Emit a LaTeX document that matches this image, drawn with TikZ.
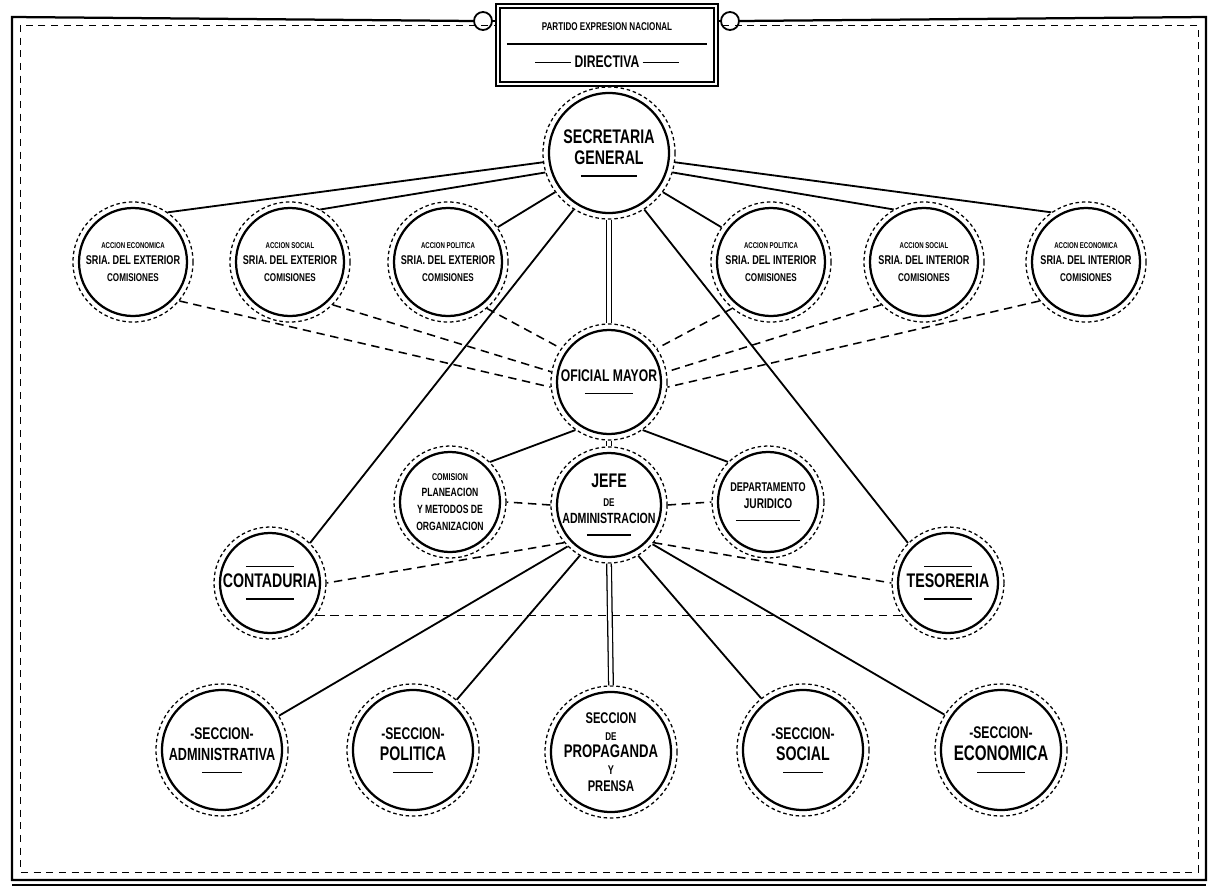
\documentclass[tikz,border=0pt]{standalone}
\usepackage{fontspec}
\setmainfont{Liberation Sans}
\newfontfamily\cond[FakeStretch=0.72]{Liberation Sans}
\newcommand\fs[2]{\fontsize{#1}{#2}\selectfont}
\tikzset{
  orgn/.style={circle, draw, line width=0.9pt, dash pattern=on 2.5pt off 2pt, inner sep=0pt, align=center, font=\cond\bfseries},
  orgin/.style={line width=1.6pt},
  conn/.style={line width=1.3pt},
  dconn/.style={line width=1.1pt, dash pattern=on 6pt off 4pt},
  stem/.style={double, double distance=2.4pt, line width=0.9pt},
  frame/.style={line width=1.6pt},
  framein/.style={line width=0.7pt, dash pattern=on 5pt off 4pt},
  knob/.style={circle, draw, line width=1.3pt, minimum size=0.45cm, inner sep=0pt, fill=white},
  titlebox/.style={draw, double, double distance=2pt, line width=0.9pt, fill=white, align=center, font=\cond\bfseries, inner sep=0pt}
}
\newcommand\orgnode[5]{%
  \node[orgn, minimum size=#3cm] (#1) at (#2) {#5};
  \draw[orgin] (#1.center) circle[radius=#4];}
\newcommand\ul[1]{\\[-3pt]\rule{#1}{0.9pt}}
\begin{document}
\begin{tikzpicture}[x=0.025cm,y=-0.025cm]
\useasboundingbox (0,0) rectangle (1218,894);
% frame
\node[knob] (kl) at (483,21) {};
\node[knob] (kr) at (730,21) {};
\draw[frame] (kl.west) -- (12,17) -- (12,880) -- (1206,880) -- (1206,17) -- (kr.east);
\draw[framein] (20,25) rectangle (1198,872);
\draw[line width=0.8pt] (12,885) -- (1206,885);
\node[titlebox, minimum width=5.45cm, minimum height=1.95cm] (title) at (607,45)
  {\fs{8}{9}PARTIDO EXPRESION NACIONAL\\[-2pt]\rule{5cm}{1.2pt}\\[4pt]
   \fs{12}{13}\rule[3pt]{0.9cm}{1pt}\ DIRECTIVA\ \rule[3pt]{0.9cm}{1pt}};
\draw[frame] (kl.east) -- (title.west |- kl.east);
\draw[frame] (kr.west) -- (title.east |- kr.west);
% nodes
\orgnode{sg}{609,153}{3.3}{60}{\fs{14}{15}SECRETARIA\\[3pt]\fs{14}{15}GENERAL\ul{1.4cm}}
\orgnode{c1}{133,262}{3.0}{54}{\fs{6}{7}ACCION ECONOMICA\\\fs{9}{10}SRIA. DEL EXTERIOR\\\fs{8}{10}COMISIONES}
\orgnode{c2}{290,262}{3.0}{54}{\fs{6}{7}ACCION SOCIAL\\\fs{9}{10}SRIA. DEL EXTERIOR\\\fs{8}{10}COMISIONES}
\orgnode{c3}{448,262}{3.0}{54}{\fs{6}{7}ACCION POLITICA\\\fs{9}{10}SRIA. DEL EXTERIOR\\\fs{8}{10}COMISIONES}
\orgnode{c4}{771,262}{3.0}{54}{\fs{6}{7}ACCION POLITICA\\\fs{9}{10}SRIA. DEL INTERIOR\\\fs{8}{10}COMISIONES}
\orgnode{c5}{924,262}{3.0}{54}{\fs{6}{7}ACCION SOCIAL\\\fs{9}{10}SRIA. DEL INTERIOR\\\fs{8}{10}COMISIONES}
\orgnode{c6}{1086,262}{3.0}{54}{\fs{6}{7}ACCION ECONOMICA\\\fs{9}{10}SRIA. DEL INTERIOR\\\fs{8}{10}COMISIONES}
\orgnode{om}{609,382}{2.9}{52}{\fs{12}{13}OFICIAL MAYOR\ul{1.2cm}}
\orgnode{jefe}{609,505}{2.9}{52}{\fs{14}{14}JEFE\\[1pt]\fs{8}{8}DE\\\fs{10.5}{11}ADMINISTRACION\ul{1.1cm}}
\orgnode{com}{450,502}{2.8}{50}{\fs{7}{8}COMISION\\\fs{8.5}{9}PLANEACION\\\fs{8.5}{9}Y METODOS DE\\\fs{8.5}{9}ORGANIZACION}
\orgnode{jur}{768,502}{2.8}{50}{\fs{9}{10}DEPARTAMENTO\\\fs{10}{11}JURIDICO\ul{1.6cm}}
\orgnode{cont}{270,583}{2.8}{50}{\rule{1.2cm}{0.8pt}\\[2pt]\fs{14}{15}CONTADURIA\ul{1.2cm}}
\orgnode{tes}{948,583}{2.8}{50}{\rule{1.2cm}{0.8pt}\\[2pt]\fs{14}{15}TESORERIA\ul{1.2cm}}
\orgnode{sa}{222,750}{3.3}{60}{\fs{12}{13}-SECCION-\\[3pt]\fs{12.5}{13}ADMINISTRATIVA\ul{1cm}}
\orgnode{sp}{413,750}{3.3}{60}{\fs{12}{13}-SECCION-\\[3pt]\fs{14}{15}POLITICA\ul{1cm}}
\orgnode{prop}{611,752}{3.3}{60}{\fs{11}{11}SECCION\\\fs{8}{8}DE\\\fs{13}{13}PROPAGANDA\\\fs{9}{9}Y\\\fs{11}{12}PRENSA}
\orgnode{ss}{803,750}{3.3}{60}{\fs{12}{13}-SECCION-\\[3pt]\fs{14}{15}SOCIAL\ul{1cm}}
\orgnode{se}{1001,750}{3.3}{60}{\fs{12}{13}-SECCION-\\[4pt]\fs{15}{16}ECONOMICA\ul{1.2cm}}
% connectors from secretaria general
\draw[conn] (c1.55) -- (sg.188);
\draw[conn] (c2.60) -- (sg.197);
\draw[conn] (c3.35) -- (sg.216);
\draw[conn] (c4.145) -- (sg.324);
\draw[conn] (c5.120) -- (sg.343);
\draw[conn] (c6.125) -- (sg.352);
\draw[conn] (sg.238) -- (cont.45);
\draw[conn] (sg.302) -- (tes.135);
\draw[stem] (sg.south) -- (om.north);
% dashed to oficial mayor
\draw[dconn] (c1.-40) -- (om.185);
\draw[dconn] (c2.-45) -- (om.170);
\draw[dconn] (c3.-50) -- (om.145);
\draw[dconn] (c4.230) -- (om.35);
\draw[dconn] (c5.225) -- (om.10);
\draw[dconn] (c6.220) -- (om.-5);
% oficial mayor
\draw[conn] (om.235) -- (com.45);
\draw[conn] (om.305) -- (jur.135);
\draw[stem] (om.south) -- (jefe.north);
% jefe de administracion
\draw[dconn] (jefe.west) -- (com.east);
\draw[dconn] (jefe.east) -- (jur.west);
\draw[dconn] (jefe.220) -- (cont.0);
\draw[dconn] (jefe.320) -- (tes.180);
\draw[dconn] (cont.-35) -- (tes.215);
\draw[conn] (jefe.225) -- (sa.31);
\draw[conn] (jefe.240) -- (sp.49);
\draw[stem] (jefe.south) -- (prop.north);
\draw[conn] (jefe.300) -- (ss.129);
\draw[conn] (jefe.318) -- (se.148);
\end{tikzpicture}
\end{document}
